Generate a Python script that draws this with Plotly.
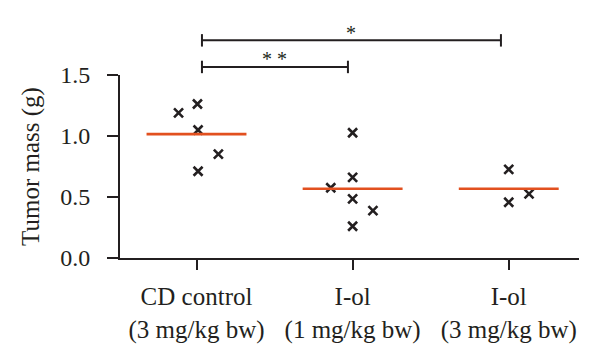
import plotly.graph_objects as go

# ---- data ----
categories = ["CD control<br>(3 mg/kg bw)", "I-ol<br>(1 mg/kg bw)", "I-ol<br>(3 mg/kg bw)"]
cd_control = [1.19, 1.262, 1.049, 0.852, 0.711]
iol_1 = [0.576, 1.027, 0.661, 0.484, 0.388, 0.26]
iol_3 = [0.727, 0.457, 0.525]
group_means = [1.015, 0.568, 0.568]
y_ticks = [0.0, 0.5, 1.0, 1.5]
y_tick_labels = ["0.0", "0.5", "1.0", "1.5"]
comparisons = [(0, 1, "* *"), (0, 2, "*")]

# ---- layout helpers (positions / styles) ----
jitter = [
    [-0.115, 0.006, 0.01, 0.14, 0.01],
    [-0.14, 0.0, 0.0, 0.0, 0.13, 0.0],
    [0.0, 0.0, 0.13],
]
groups = [cd_control, iol_1, iol_3]
ink = "#231f20"
red = "#e2501f"
font_family = "Liberation Serif, Times New Roman, serif"
fs = 24
fs_big = 25
y_max = 1.5

fig = go.Figure()

for i, vals in enumerate(groups):
    xs = [i + j for j in jitter[i]]
    fig.add_trace(go.Scatter(
        x=xs, y=vals, mode="markers",
        marker=dict(symbol="x-thin", size=9, line=dict(width=2.6, color=ink), color=ink),
        showlegend=False, hoverinfo="y", cliponaxis=False,
    ))

half = 0.32
for i, m in enumerate(group_means):
    fig.add_trace(go.Scatter(
        x=[i - half, i + half], y=[m, m], mode="lines",
        line=dict(color=red, width=2.6), showlegend=False, hoverinfo="y",
    ))

# significance brackets (heights in data units, converted to paper)
bracket_heights = [1.566, 1.784]
cap = 0.034
for (a, b, label), h in zip(comparisons, bracket_heights):
    x0 = a + 0.035
    x1 = b - (0.03 if b == 1 else 0.05)
    yp = h / y_max
    fig.add_shape(type="line", xref="x", yref="paper", x0=x0, x1=x1, y0=yp, y1=yp,
                  line=dict(color=ink, width=2))
    for xx in (x0, x1):
        fig.add_shape(type="line", xref="x", yref="paper", x0=xx, x1=xx,
                      y0=yp - cap, y1=yp + cap, line=dict(color=ink, width=2))
    fig.add_annotation(x=(x0 + x1) / 2, y=yp - 0.03, xref="x", yref="paper",
                       text=label, showarrow=False, yanchor="bottom",
                       font=dict(family=font_family, size=20, color=ink))

fig.update_layout(
    width=600, height=361, autosize=False,
    margin=dict(l=120, r=21, t=75, b=103, autoexpand=False),
    plot_bgcolor="white", paper_bgcolor="white",
    font=dict(family=font_family, color=ink, size=fs),
    xaxis=dict(
        range=[-0.49, 2.45], tickvals=[0, 1, 2], ticktext=categories,
        showline=True, linecolor=ink, linewidth=2,
        ticks="outside", ticklen=10, tickwidth=2, tickcolor=ink,
        showgrid=False, zeroline=False, automargin=False,
        ticklabelstandoff=5,
        tickfont=dict(family=font_family, size=fs_big, color=ink),
    ),
    yaxis=dict(
        range=[0, y_max], tickvals=y_ticks, ticktext=y_tick_labels,
        showline=True, linecolor=ink, linewidth=2,
        ticks="outside", ticklen=11, tickwidth=2, tickcolor=ink,
        showgrid=False, zeroline=False, automargin=False,
        ticklabelstandoff=12,
        title=dict(text="Tumor mass (g)", font=dict(family=font_family, size=fs_big, color=ink), standoff=13),
        tickfont=dict(family=font_family, size=fs, color=ink),
    ),
)

fig.write_html("out.html", config={"displayModeBar": False},
               post_script="document.body.style.margin='0px';")
